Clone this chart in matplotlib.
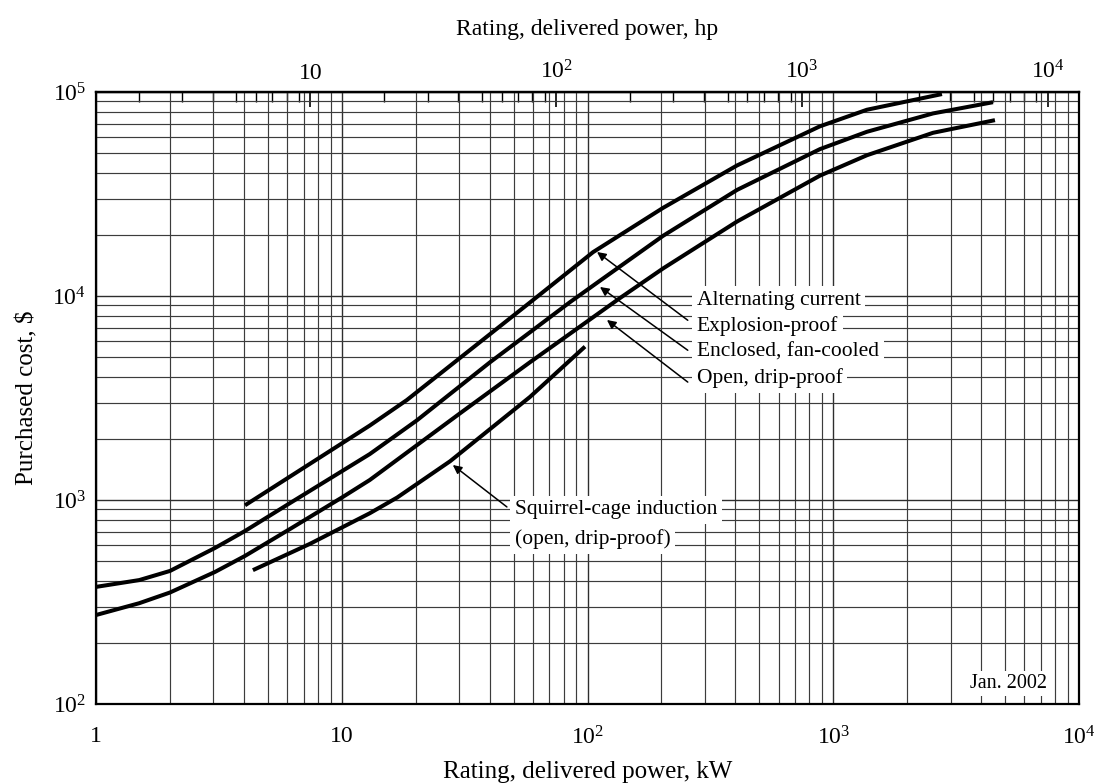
import numpy as np
import matplotlib
matplotlib.use("Agg")
import matplotlib.pyplot as plt
from matplotlib.ticker import LogLocator, NullFormatter, FixedLocator

# ---------------- data ----------------
explosion_kw = [4.04, 4.78, 13.0, 18.4, 58.3, 105.3, 203, 406, 883, 1371, 2770]
explosion_cost = [942, 1072, 2317, 3090, 9290, 16400, 27040, 43650, 67900, 81850, 97700]

enclosed_kw = [1.0, 1.5, 2.0, 3.05, 4.04, 6.16, 13.0, 20.2, 40.1, 58.3, 84.9, 112.4,
               203, 406, 883, 1371, 2547, 4467]
enclosed_cost = [375, 405, 449, 582, 705, 966, 1679, 2455, 4732, 6637, 9333, 11885,
                 19724, 33113, 52481, 63826, 78524, 89125]

open_kw = [1.0, 1.5, 2.0, 3.05, 4.04, 6.16, 10.1, 13.0, 30.3, 58.3, 135.6, 203,
           406, 883, 1371, 2547, 4550]
open_cost = [273, 312, 352, 444, 532, 721, 1035, 1253, 2661, 4732, 9772, 13646,
             23174, 38905, 48978, 63096, 72778]

squirrel_kw = [4.35, 7.43, 13.0, 16.8, 27.6, 58.3, 97.7]
squirrel_cost = [453, 610, 861, 1028, 1549, 3199, 5649]

kw_ticks = [1, 10, 100, 1000, 10000]
kw_labels = ["1", "10", "$10^2$", "$10^3$", "$10^4$"]
hp_ticks = [10, 100, 1000, 10000]
hp_labels = ["10", "$10^2$", "$10^3$", "$10^4$"]
cost_ticks = [100, 1000, 10000, 100000]
cost_labels = ["$10^2$", "$10^3$", "$10^4$", "$10^5$"]

KW_PER_HP = 0.7457

# ---------------- style ----------------
plt.rcParams["font.family"] = ["Liberation Serif", "DejaVu Serif"]
plt.rcParams["mathtext.fontset"] = "custom"
plt.rcParams["mathtext.rm"] = "Liberation Serif"
plt.rcParams["mathtext.it"] = "Liberation Serif:italic"
plt.rcParams["mathtext.bf"] = "Liberation Serif:bold"

fig = plt.figure(figsize=(11.04, 7.83), dpi=100)
ax = fig.add_axes([96 / 1104, 1 - 704 / 783, 983 / 1104, 612 / 783])
ax.set_xscale("log")
ax.set_yscale("log")
ax.set_xlim(1, 1e4)
ax.set_ylim(1e2, 1e5)

ax.xaxis.set_minor_locator(LogLocator(base=10, subs=np.arange(2, 10)))
ax.yaxis.set_minor_locator(LogLocator(base=10, subs=np.arange(2, 10)))
ax.xaxis.set_minor_formatter(NullFormatter())
ax.yaxis.set_minor_formatter(NullFormatter())
ax.grid(True, which="major", color="#2e2e2e", lw=1.0)
ax.grid(True, which="minor", color="#3c3c3c", lw=0.85)
ax.set_axisbelow(True)

ax.xaxis.set_major_locator(FixedLocator(kw_ticks))
ax.set_xticklabels(kw_labels)
ax.yaxis.set_major_locator(FixedLocator(cost_ticks))
ax.set_yticklabels(cost_labels)
ax.tick_params(which="both", length=0)
ax.tick_params(axis="x", which="major", pad=16, labelsize=17)
ax.tick_params(axis="y", which="major", pad=7, labelsize=17)

for s in ax.spines.values():
    s.set_linewidth(1.6)
    s.set_color("black")

# curves
for xs, ys in [(explosion_kw, explosion_cost), (enclosed_kw, enclosed_cost),
               (open_kw, open_cost), (squirrel_kw, squirrel_cost)]:
    ax.plot(xs, ys, color="black", lw=2.9, solid_capstyle="butt",
            solid_joinstyle="round", zorder=3)

# top hp axis
secax = ax.secondary_xaxis("top", functions=(lambda k: k / KW_PER_HP,
                                             lambda h: h * KW_PER_HP))
secax.xaxis.set_major_locator(FixedLocator(hp_ticks))
secax.set_xticklabels(hp_labels)
secax.xaxis.set_minor_locator(LogLocator(base=10, subs=np.arange(2, 10)))
secax.xaxis.set_minor_formatter(NullFormatter())
secax.tick_params(which="major", direction="in", length=11, width=1.2,
                  labelsize=17, pad=6)
secax.tick_params(which="minor", direction="in", length=7, width=1.0)
secax.spines["top"].set_linewidth(1.6)
secax.set_xlabel("Rating, delivered power, hp", fontsize=17, labelpad=18)

ax.set_xlabel("Rating, delivered power, kW", fontsize=18, labelpad=8)
ax.set_ylabel("Purchased cost, $", fontsize=18, labelpad=10)

# labels with white backgrounds
box = dict(facecolor="white", edgecolor="none", pad=3.5)
label_fs = 15.5
tx = 0.611
labels = [("Alternating current", 0.660), ("Explosion-proof", 0.617),
          ("Enclosed, fan-cooled", 0.575), ("Open, drip-proof", 0.532)]
for txt, ty in labels:
    ax.text(tx, ty, txt, transform=ax.transAxes, fontsize=label_fs,
            ha="left", va="center", bbox=box, zorder=5)

arrow_kw = dict(arrowstyle="-|>", color="black", lw=1.1, mutation_scale=13,
                shrinkA=0, shrinkB=0)
arrows = [((0.5097, 0.7386), (0.602, 0.627)),
          ((0.5127, 0.6814), (0.602, 0.578)),
          ((0.5198, 0.6275), (0.602, 0.526))]
for tip, tail in arrows:
    ax.annotate("", xy=tip, xycoords="axes fraction", xytext=tail,
                textcoords="axes fraction", arrowprops=arrow_kw, zorder=6)

ax.text(0.426, 0.317, "Squirrel-cage induction", transform=ax.transAxes,
        fontsize=label_fs, ha="left", va="center", bbox=box, zorder=5)
ax.text(0.426, 0.270, "(open, drip-proof)", transform=ax.transAxes,
        fontsize=label_fs, ha="left", va="center", bbox=box, zorder=5)
ax.annotate("", xy=(0.363, 0.3905), xycoords="axes fraction",
            xytext=(0.418, 0.322), textcoords="axes fraction",
            arrowprops=arrow_kw, zorder=6)

ax.text(0.928, 0.033, "Jan. 2002", transform=ax.transAxes, fontsize=14.5,
        ha="center", va="center", bbox=dict(facecolor="white", edgecolor="none", pad=2),
        zorder=5)

fig.savefig("out.png", dpi=100)
